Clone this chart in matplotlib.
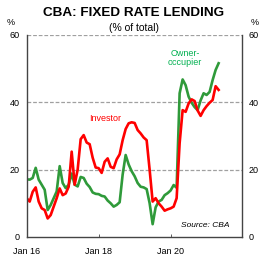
import numpy as np
import matplotlib
matplotlib.use("Agg")
import matplotlib.pyplot as plt

plt.rcParams["font.family"] = ["Liberation Sans", "DejaVu Sans"]

# monthly, Jan 2016 .. May 2021 (% of total)
owner_occupier = [17.1, 17.0, 17.5, 20.5, 17.0, 15.5, 14.0, 8.0, 9.5, 11.5,
                  13.5, 21.0, 16.0, 14.5, 15.5, 18.8, 15.5, 15.0, 17.8, 17.5,
                  15.8, 14.8, 13.2, 12.8, 12.7, 12.2, 12.0, 10.8, 10.0, 9.0,
                  9.5, 10.3, 18.5, 24.3, 21.5, 19.5, 18.0, 16.0, 14.9, 14.7,
                  14.2, 10.0, 3.8, 8.8, 10.5, 11.0, 12.4, 13.0, 13.8, 15.4,
                  14.6, 42.6, 46.7, 45.0, 41.6, 39.8, 38.5, 37.6, 40.5, 42.6,
                  42.1, 43.0, 46.5, 49.5, 51.5]
investor = [11.5, 10.5, 13.4, 14.7, 10.5, 8.5, 8.0, 5.5, 6.5, 9.0,
            11.5, 14.4, 12.4, 12.9, 14.9, 25.3, 15.5, 20.0, 29.0, 30.2,
            28.0, 27.5, 23.5, 20.6, 20.4, 19.0, 22.3, 23.3, 20.8, 20.4,
            23.0, 24.5, 28.7, 32.0, 33.7, 34.0, 33.8, 31.7, 30.7, 29.5,
            28.7, 19.9, 10.5, 11.5, 10.0, 9.0, 7.8, 8.2, 8.5, 9.0,
            11.5, 27.8, 37.6, 37.1, 39.6, 40.8, 40.3, 37.5, 35.9, 37.6,
            38.8, 39.8, 40.6, 44.7, 43.6]
tick_months = [0, 24, 48]
tick_labels = ["Jan 16", "Jan 18", "Jan 20"]
y_ticks = [0, 20, 40, 60]

fig = plt.figure(figsize=(2.68, 2.58), dpi=100)
ax = fig.add_axes([0.0996, 0.0814, 0.8034, 0.7846])

months = np.arange(len(owner_occupier))
ax.plot(months, owner_occupier, color="#2f9a3a", lw=1.9, solid_joinstyle="round")
ax.plot(months, investor, color="#ff0000", lw=1.9, solid_joinstyle="round")

ax.set_xlim(0, 71.8)
ax.set_ylim(0, 60)

for v in [20, 40, 60]:
    ax.axhline(v, color="#a0a0a0", lw=0.9, ls=(0, (3, 1.5)), zorder=0)

for s in ["left", "right", "bottom"]:
    ax.spines[s].set_color("#444444")
    ax.spines[s].set_linewidth(1.0)
ax.spines["top"].set_visible(False)

ax.set_xticks(tick_months)
ax.set_xticklabels(tick_labels, fontsize=6.5)
ax.set_yticks(y_ticks)
ax.set_yticklabels([str(v) for v in y_ticks], fontsize=6.5)
ax.tick_params(axis="x", direction="in", length=2, width=0.6, color="#444444", pad=7)
ax.tick_params(axis="y", direction="in", length=0, pad=5, labelright=True, right=True)

ax.text(-0.073, 1.062, "%", transform=ax.transAxes, fontsize=6.5, ha="center", va="center")
ax.text(1.06, 1.062, "%", transform=ax.transAxes, fontsize=6.5, ha="center", va="center")

fig.text(0.5, 0.95, "CBA: FIXED RATE LENDING", ha="center", va="center",
         fontsize=9.7, fontweight="bold")
fig.text(0.5, 0.893, "(% of total)", ha="center", va="center", fontsize=7.5)

ax.text(26.0, 35.2, "Investor", color="#ff0000", fontsize=6.5, ha="center", va="center")
ax.text(52.8, 53.2, "Owner-\noccupier", color="#00b050", fontsize=6.5,
        ha="center", va="center", linespacing=1.0)
ax.text(67.5, 3.5, "Source: CBA", fontsize=6, style="italic", ha="right", va="center")

fig.savefig("out.png", dpi=100)
